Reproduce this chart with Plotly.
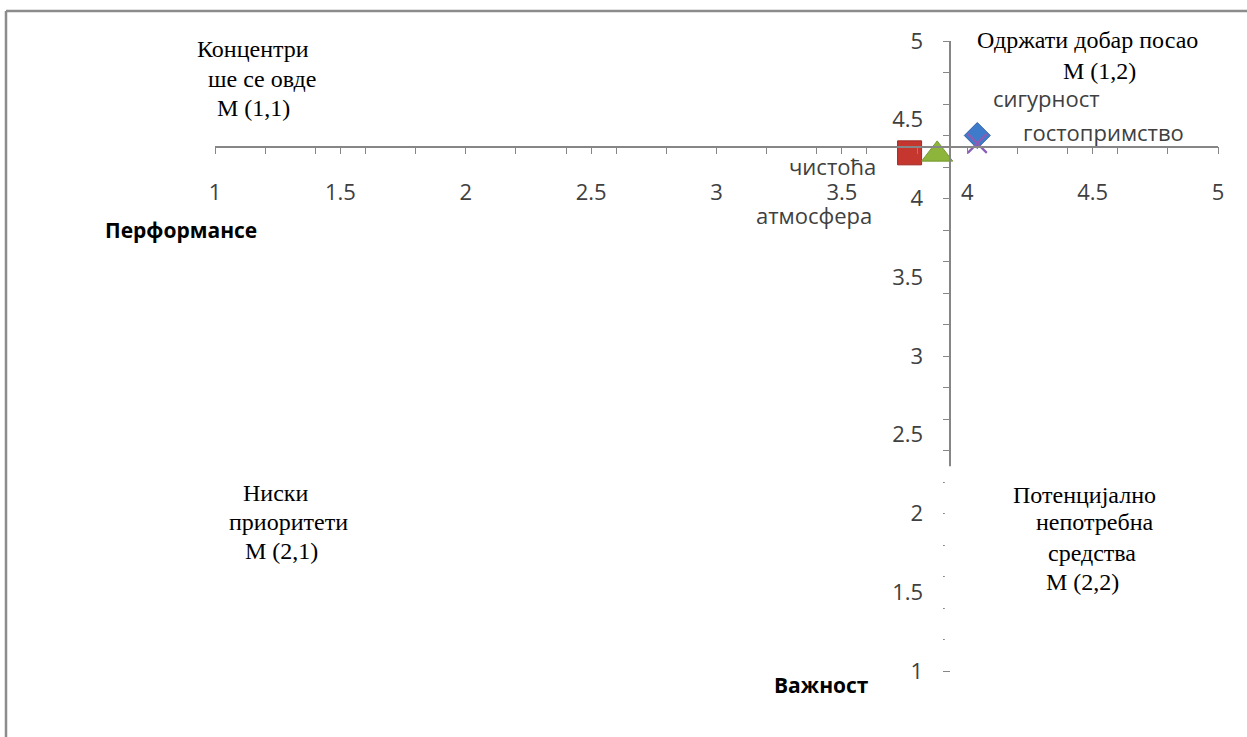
import plotly.graph_objects as go

# ---------------- data ----------------
items = ["сигурност", "гостопримство", "чистоћа", "атмосфера"]
performance = [4.04, 4.04, 3.77, 3.88]   # horizontal (Перформансе)
importance = [4.40, 4.35, 4.29, 4.28]    # vertical (Важност)
symbols = ["diamond", "x-thin-open", "square", "triangle-up"]
colors = ["#3E7CCB", "#8A5CB5", "#C5362F", "#8DB53C"]
edge_colors = ["#2F63A8", "#8A5CB5", "#9E2A24", "#76992F"]

x_tick_vals = [1, 1.5, 2, 2.5, 3, 3.5, 4, 4.5, 5]
x_tick_text = ["1", "1.5", "2", "2.5", "3", "3.5", "4", "4.5", "5"]
y_tick_vals = [1, 1.5, 2, 2.5, 3, 3.5, 4, 4.5, 5]
y_tick_text = ["1", "1.5", "2", "2.5", "3", "3.5", "4", "4.5", "5"]

quadrant_lines = [
    ("Концентри", 253, 49), ("ше се овде", 262, 79), ("М (1,1)", 253, 108),
    ("Одржати добар посао", 1087, 40), ("М (1,2)", 1099, 71),
    ("Ниски", 275, 493), ("приоритети", 288, 522), ("М (2,1)", 281, 551),
    ("Потенцијално", 1084, 495), ("непотребна", 1095, 522),
    ("средства", 1092, 553), ("М (2,2)", 1082, 582),
]
label_pos = [(1046, 98), (1103, 132), (832, 166), (814, 215)]

# ---------------- layout geometry ----------------
W, H = 1247, 737
L, R, T, B = 215, 29, 41, 66


def px2paper(px, py):
    return (px - L) / (W - L - R), 1 - (py - T) / (H - T - B)


x_cross = sum(performance) / len(performance)
y_cross = sum(importance) / len(importance)

AXC = "#868686"
TICKC = "#404040"

fig = go.Figure()
for name, xv, yv, sym, col, ec in zip(items, performance, importance, symbols, colors, edge_colors):
    if sym == "x-thin-open":
        marker = dict(symbol=sym, size=19, color=col, line=dict(color=col, width=2.2))
    elif sym == "diamond":
        marker = dict(symbol=sym, size=20, color=col, line=dict(color=ec, width=1))
    elif sym == "triangle-up":
        marker = dict(symbol=sym, size=27, color=col, line=dict(color=ec, width=1))
    else:
        marker = dict(symbol=sym, size=24, color=col, line=dict(color=ec, width=1))
    fig.add_trace(go.Scatter(x=[xv], y=[yv], mode="markers", name=name,
                             marker=marker, showlegend=False, hoverinfo="skip"))

annotations = []
for txt, px, py in quadrant_lines:
    ax, ay = px2paper(px, py)
    annotations.append(dict(x=ax, y=ay, xref="paper", yref="paper", text=txt,
                            showarrow=False, xanchor="center", yanchor="middle",
                            font=dict(family="Liberation Serif", size=24, color="#000000")))
for txt, (px, py) in zip(items, label_pos):
    ax, ay = px2paper(px, py)
    annotations.append(dict(x=ax, y=ay, xref="paper", yref="paper", text=txt,
                            showarrow=False, xanchor="center", yanchor="middle",
                            font=dict(family="Open Sans", size=22, color=TICKC)))
for txt, px, py in [("Перформансе", 181, 230), ("Важност", 821, 685)]:
    ax, ay = px2paper(px, py)
    annotations.append(dict(x=ax, y=ay, xref="paper", yref="paper", text="<b>" + txt + "</b>",
                            showarrow=False, xanchor="center", yanchor="middle",
                            font=dict(family="Open Sans", size=21, color="#000000")))

shapes = []
# white cover hiding the lower part of the vertical axis line (leaves only tick stubs)
shapes.append(dict(type="rect", layer="above", xref="x", xsizemode="pixel", xanchor=x_cross,
                   x0=-5.5, x1=6, yref="y", y0=0.9, y1=2.3,
                   fillcolor="white", line=dict(width=0)))
# outer frame (left and top)
fx0, fy0 = px2paper(6, 11)
fx1, fy1 = px2paper(W + 5, H + 5)
shapes.append(dict(type="line", xref="paper", yref="paper", x0=fx0, x1=fx0, y0=fy0, y1=fy1,
                   line=dict(color="#8c8c8c", width=2.5)))
shapes.append(dict(type="line", xref="paper", yref="paper", x0=fx0, x1=fx1, y0=fy0, y1=fy0,
                   line=dict(color="#8c8c8c", width=2.5)))

fig.update_layout(
    width=W, height=H,
    margin=dict(l=L, r=R, t=T, b=B, pad=0),
    paper_bgcolor="white", plot_bgcolor="white",
    showlegend=False,
    annotations=annotations,
    shapes=shapes,
    xaxis=dict(range=[1, 5], anchor="free", position=(y_cross - 1) / 4,
               showgrid=False, zeroline=False, showline=True, linecolor=AXC, linewidth=1.5,
               tickmode="array", tickvals=x_tick_vals, ticktext=x_tick_text,
               ticks="outside", ticklen=7, tickcolor=AXC, tickwidth=1.2,
               ticklabelstandoff=19,
               tickfont=dict(family="Open Sans", size=22, color=TICKC),
               minor=dict(tick0=1, dtick=0.2, ticks="outside", ticklen=7, tickcolor=AXC,
                          tickwidth=1.2, showgrid=False)),
    yaxis=dict(range=[1, 5], anchor="free", position=(x_cross - 1) / 4,
               showgrid=False, zeroline=False, showline=True, linecolor=AXC, linewidth=1.5,
               tickmode="array", tickvals=y_tick_vals, ticktext=y_tick_text,
               ticks="", ticklabelstandoff=22,
               tickfont=dict(family="Open Sans", size=22, color=TICKC),
               minor=dict(tick0=1, dtick=0.2, ticks="outside", ticklen=7, tickcolor=AXC,
                          tickwidth=1.2, showgrid=False)),
)

fig.write_html("out.html", config={"displayModeBar": False},
               post_script="document.body.style.margin='0';document.body.style.overflow='hidden';")
